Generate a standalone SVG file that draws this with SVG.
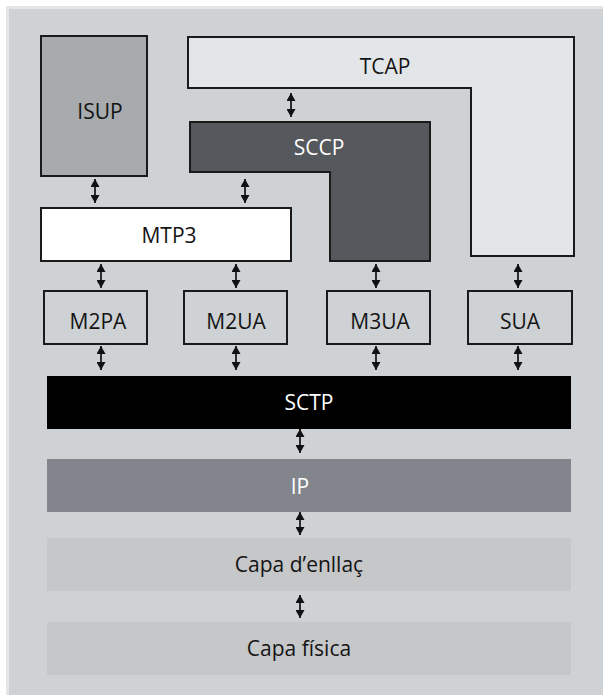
<svg xmlns="http://www.w3.org/2000/svg" width="603" height="695" viewBox="0 0 603 695">
<defs>
<style>
.box{stroke:#1a1a1a;stroke-width:2}
.t{font-family:"Open Sans","Noto Sans",sans-serif;font-size:21px;text-anchor:middle}
.dk{fill:#141414}
.wt{fill:#ffffff}
.arr{stroke:#111;stroke-width:1.7;marker-start:url(#ah);marker-end:url(#ah)}
</style>
<marker id="ah" viewBox="0 0 8 9" refX="8" refY="4.5" markerWidth="8" markerHeight="9" markerUnits="userSpaceOnUse" orient="auto-start-reverse">
<path d="M0,0 L8,4.5 L0,9 z" fill="#111"/>
</marker>
</defs>
<rect x="0" y="0" width="603" height="695" fill="#ffffff"/>
<rect x="6" y="6" width="597" height="689" fill="#e4e6e8"/>
<rect x="9" y="9" width="594" height="686" fill="#ced2d5"/>

<g id="isup">
<rect class="box" x="41" y="36" width="106" height="140" fill="#a7abae"/>
<text class="t dk" x="100" y="119">ISUP</text>
</g>
<g id="tcap">
<path class="box" d="M188,37 H574 V256 H471 V88 H188 Z" fill="#e3e6e9"/>
<text class="t dk" x="385" y="74">TCAP</text>
</g>
<g id="sccp">
<path class="box" d="M190,122 H430 V261 H330 V172 H190 Z" fill="#55585c"/>
<text class="t wt" x="319" y="155">SCCP</text>
</g>
<g id="mtp3">
<rect class="box" x="41" y="208" width="250" height="53" fill="#ffffff"/>
<text class="t dk" x="169" y="243">MTP3</text>
</g>
<g id="m2pa">
<rect class="box" x="44" y="291" width="103" height="53" fill="#ced2d5"/>
<text class="t dk" x="98" y="329">M2PA</text>
</g>
<g id="m2ua">
<rect class="box" x="184" y="291" width="103" height="53" fill="#ced2d5"/>
<text class="t dk" x="236" y="329">M2UA</text>
</g>
<g id="m3ua">
<rect class="box" x="327" y="291" width="103" height="53" fill="#ced2d5"/>
<text class="t dk" x="380" y="329">M3UA</text>
</g>
<g id="sua">
<rect class="box" x="468" y="291" width="104" height="53" fill="#ced2d5"/>
<text class="t dk" x="520" y="329">SUA</text>
</g>
<g id="sctp">
<rect x="47" y="376" width="524" height="53" fill="#000000"/>
<text class="t wt" x="309" y="410">SCTP</text>
</g>
<g id="ip">
<rect x="47" y="459" width="524" height="53" fill="#82858c"/>
<text class="t wt" x="300" y="494">IP</text>
</g>
<g id="enllac">
<rect x="47" y="538" width="524" height="53" fill="#c6c7c9"/>
<text class="t dk" x="299" y="572">Capa d’enllaç</text>
</g>
<g id="fisica">
<rect x="47" y="622" width="524" height="53" fill="#c6c7c9"/>
<text class="t dk" x="299" y="656">Capa física</text>
</g>

<g id="connectors">
<line class="arr" x1="95" y1="179" x2="95" y2="203"/>
<line class="arr" x1="245" y1="179" x2="245" y2="203"/>
<line class="arr" x1="291" y1="93" x2="291" y2="117"/>
<line class="arr" x1="101" y1="264" x2="101" y2="288"/>
<line class="arr" x1="236" y1="264" x2="236" y2="288"/>
<line class="arr" x1="376" y1="264" x2="376" y2="288"/>
<line class="arr" x1="518" y1="264" x2="518" y2="288"/>
<line class="arr" x1="101" y1="346" x2="101" y2="370"/>
<line class="arr" x1="236" y1="346" x2="236" y2="370"/>
<line class="arr" x1="376" y1="346" x2="376" y2="370"/>
<line class="arr" x1="518" y1="346" x2="518" y2="370"/>
<line class="arr" x1="300" y1="429" x2="300" y2="453"/>
<line class="arr" x1="300" y1="512" x2="300" y2="535"/>
<line class="arr" x1="300" y1="595" x2="300" y2="618"/>
</g>
</svg>
